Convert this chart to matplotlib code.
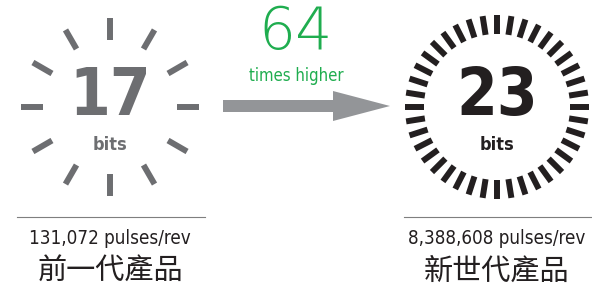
"""
Resolution comparison: 17-bit vs 23-bit encoder dials.
"""

import numpy as np
import matplotlib.pyplot as plt
from matplotlib.collections import LineCollection
from matplotlib.patches import FancyArrow

# ---- data ----
BITS = [17, 23]
TICK_COUNTS = [12, 40]
PULSES = [131072, 8388608]
GENERATION = ["前一代產品", "新世代產品"]
RATIO = "64"
RATIO_TEXT = "times higher"

DIAL_COLORS = ["#6d6e71", "#231f20"]
GREEN = "#1fad4f"
ARROW_GRAY = "#939598"

W, H = 592, 297
CENTERS = [(110, 107), (497, 107)]
RADII = [(67, 89), (73, 92)]
LATIN = ["DejaVu Sans"]
CJK = ["Noto Sans CJK TC", "DejaVu Sans"]

fig = plt.figure(figsize=(W / 100, H / 100), dpi=100)
ax = fig.add_axes([0, 0, 1, 1])
ax.set_xlim(0, W)
ax.set_ylim(H, 0)
ax.axis("off")

for (cx, cy), (r_in, r_out), n, bits, pulses, gen, col in zip(
        CENTERS, RADII, TICK_COUNTS, BITS, PULSES, GENERATION, DIAL_COLORS):
    ang = np.deg2rad(np.arange(n) * 360.0 / n)
    segs = [[(cx + r_in * np.cos(a), cy + r_in * np.sin(a)),
             (cx + r_out * np.cos(a), cy + r_out * np.sin(a))] for a in ang]
    ax.add_collection(LineCollection(segs, colors=col, linewidths=4.3,
                                     capstyle="butt"))

    ax.text(cx, cy - 10, str(bits), ha="center", va="center", color=col,
            fontsize=47, fontweight="bold", family=LATIN, fontstretch="condensed")
    ax.text(cx, cy + 38, "bits", ha="center", va="center", color=col,
            fontsize=13, fontweight="bold", family=LATIN, fontstretch="condensed")

    # caption under each dial
    ax.plot([cx - 93, cx + 95], [217, 217], color="#7f7f7f", lw=0.8)
    ax.text(cx, 238, f"{pulses:,} pulses/rev", ha="center", va="center",
            color="#231f20", fontsize=13.5, family=LATIN, fontstretch="condensed")
    ax.text(cx, 272, gen, ha="center", va="center", color="#231f20",
            fontsize=21, family=CJK)

# middle: ratio + arrow
ax.text(295, 33, RATIO, ha="center", va="center", color=GREEN,
        fontsize=42, fontweight="light", family=["DejaVu Sans"])
ax.text(296, 76, RATIO_TEXT, ha="center", va="center", color=GREEN,
        fontsize=12, family=LATIN, fontstretch="condensed")
ax.add_patch(FancyArrow(223, 106, 167, 0, width=12, head_width=30,
                        head_length=57, length_includes_head=True,
                        color=ARROW_GRAY, lw=0))

fig.savefig("out.png", dpi=100)
